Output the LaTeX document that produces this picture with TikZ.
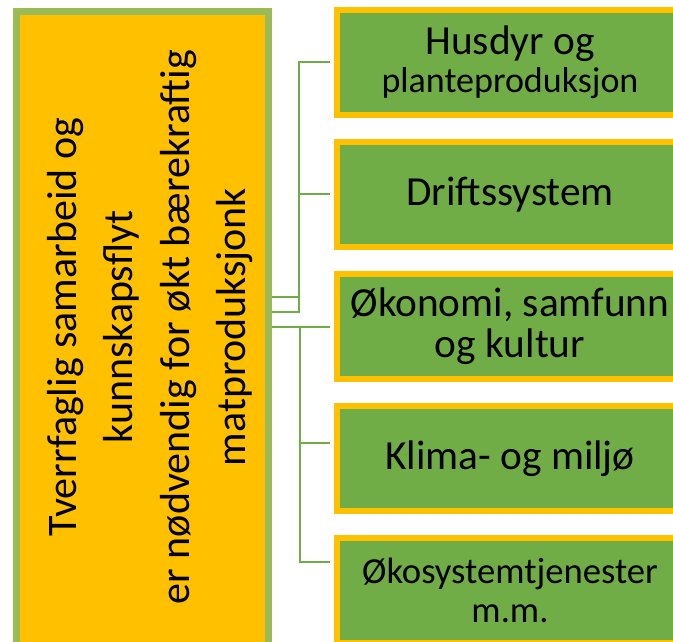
\documentclass[tikz,border=0pt]{standalone}
\usepackage{fontspec}
\setmainfont{Carlito}
\usetikzlibrary{positioning}
\definecolor{colororange}   {RGB}{255,192,0  }
\definecolor{colorgreen}    {RGB}{112,173,71 }
\definecolor{colorolive}    {RGB}{155,187,89 }
\definecolor{colortext}     {RGB}{0  ,0  ,0  }

\begin{document}
\begin{tikzpicture}[
    x=0.75pt, y=-0.75pt,
    node distance = 15.75pt,
    base/.style={text=colortext,inner sep=0pt,align=center,rectangle},
    mainbox/.style={base,fill=colororange,draw=colorolive,line width=5.25pt,
        minimum width=189pt,minimum height=478.9pt},
    maintext/.style={base,rotate=90,font={\fontsize{31.5}{42.4}\selectfont}},
    topicbox/.style={base,fill=colorgreen,draw=colororange,line width=4.5pt,
        minimum width=259.5pt,minimum height=78.75pt,
        font={\fontsize{31}{31}\selectfont}},
    link/.style={draw=colorgreen,line width=1.5pt,shorten >=3pt},
]
    \useasboundingbox (0,0) rectangle (673,641);
    \clip (0,0) rectangle (673,641);

    \node[mainbox] (main) at (142.5,330.75) {};
    \node[maintext] (mainlabel) at (150,327) {Tverrfaglig samarbeid og\\
    kunnskapsflyt\\
    er nødvendig for økt bærekraftig\\
    matproduksjonk};

    \node[topicbox] (husdyr) at (510,62.5) {Husdyr og\\[-2.5pt]{\fontsize{27}{27}\selectfont planteproduksjon}};
    \node[topicbox,below=of husdyr] (drift) {Driftssystem};
    \node[topicbox,below=of drift] (okonomi) {Økonomi, samfunn\\og kultur};
    \node[topicbox,below=of okonomi] (klima) {Klima- og miljø};
    \node[topicbox,below=of klima,font={\fontsize{27.5}{29.25}\selectfont}] (okosystem) {Økosystemtjenester\\m.m.};

    \draw[link] ([yshift=25.3pt]main.east) -- ++(27,0) |- (husdyr.west);
    \draw[link] ([yshift=14.1pt]main.east) -- ++(27,0) |- (drift.west);
    \draw[link] (main.east |- okonomi.west) -- (okonomi.west);
    \draw[link] (main.east |- okonomi.west) -- ++(28,0) |- ([yshift=11.6pt]klima.west);
    \draw[link] (main.east |- okonomi.west) -- ++(28,0) |- ([yshift=21.4pt]okosystem.west);

\end{tikzpicture}
\end{document}
